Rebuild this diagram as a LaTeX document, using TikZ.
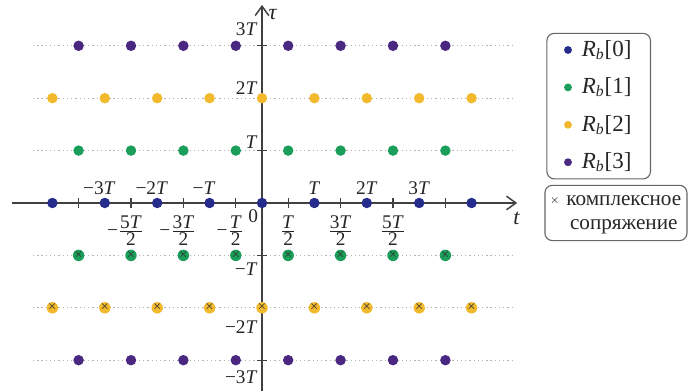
\documentclass[tikz,border=0pt]{standalone}
\usepackage{amsmath}
\usepackage{fontspec}
\setmainfont{Liberation Serif}
\usepackage{tikz}
\usetikzlibrary{arrows.meta, positioning, fit}

\definecolor{rbblue}{HTML}{262C8C}
\definecolor{rbgreen}{HTML}{1A9E5A}
\definecolor{rbyellow}{HTML}{F2B92C}
\definecolor{rbpurple}{HTML}{4A2882}

\newcommand{\TT}{\textit{T}}
\newcommand{\hfr}[2]{$\textstyle\frac{\mbox{#1}}{\mbox{#2}}$}
\newcommand{\Rb}[1]{\textit{R}$_{\mbox{\fontsize{8.5}{9}\selectfont\textit{b}}}$[#1]}

\begin{document}
\begin{tikzpicture}[
        font=\fontsize{10.5}{12}\selectfont,
        axis/.style={line width=0.8pt, draw=black!75,
            -{Straight Barb[length=1.8mm, width=2.6mm]}},
        grid/.style={gray!60, line width=0.6pt, dash pattern=on 0.7pt off 1.6pt},
        tick/.style={line width=0.6pt, draw=black!75},
        pt/.style={circle, fill=#1, inner sep=0pt, minimum size=0.2cm},
        ptx/.style={pt=#1, font=\fontsize{8}{8}\selectfont, text=black!80},
        lpt/.style={circle, fill=#1, inner sep=0pt, minimum size=0.15cm},
        lbl/.style={inner sep=0.5pt, text=black!85},
        legtxt/.style={inner sep=1pt, text=black!85, font=\fontsize{12.5}{14}\selectfont},
        legbox/.style={draw=black!60, rounded corners=4pt, line width=0.6pt},
    ]
        \useasboundingbox (-5.0,-3.588) rectangle (8.302,3.874);

        % dotted rows
        \foreach \r in {-3,-2,-1,1,2,3}
            \draw[grid] (-4.37,\r) -- (4.79,\r);

        % axes
        \coordinate (tL) at (-4.77,0);
        \coordinate (tR) at (4.87,0);
        \coordinate (uB) at (0,-3.588);
        \coordinate (uT) at (0,3.78);
        \draw[axis] (tL) -- (tR);
        \draw[axis] (uB) -- (uT);
        \node[lbl] (tlab) at (4.86,-0.29) {\fontsize{12}{12}\selectfont\textit{t}};
        \node[lbl] (ulab) at (0.21,3.6) {\fontsize{12}{12}\selectfont\textit{τ}};

        % ticks
        \foreach \k in {-3.5,-2.5,...,3.5}
            \draw[tick] (\k,-0.09) -- (\k,0.09);
        \foreach \r in {-3,-2,-1,1,2,3}
            \draw[tick] (-0.1,\r) -- (0.1,\r);

        % t-axis labels
        \foreach \k/\txt [count=\i] in {-3/\llap{−}3\TT, -2/\llap{−}2\TT, -1/\llap{−}\TT,
                1/\TT, 2/2\TT, 3/3\TT}
            \node[lbl] (ta\i) at (\k,0.29) {\txt};
        \foreach \k/\n [count=\i] in {-2.5/5, -1.5/3, -0.5/}
            \node[lbl] (tm\i) at (\k,-0.52) {\llap{−}\hfr{\n\TT}{2}};
        \foreach \k/\n [count=\i] in {0.5/, 1.5/3, 2.5/5}
            \node[lbl] (tp\i) at (\k,-0.52) {\hfr{\n\TT}{2}};
        \node[lbl] (zero) at (-0.17,-0.25) {0};

        % tau-axis labels
        \foreach \y/\txt [count=\i] in {3.31/3\TT, 2.19/2\TT, 1.17/\TT,
                -1.27/−\TT, -2.37/−2\TT, -3.32/−3\TT}
            \node[lbl, anchor=east] (ua\i) at (-0.06,\y) {\txt};

        % R_b[0]
        \foreach \k in {-4,...,4}
            \node[pt=rbblue] (b\k) at (\k,0) {};
        % R_b[1]
        \foreach \k [count=\i] in {-3.5,-2.5,...,3.5} {
            \node[pt=rbgreen] (g\i) at (\k,1) {};
            \node[ptx=rbgreen] (gx\i) at (\k,-1) {×};
        }
        % R_b[2]
        \foreach \k in {-4,...,4} {
            \node[pt=rbyellow] (y\k) at (\k,2) {};
            \node[ptx=rbyellow] (yx\k) at (\k,-2) {×};
        }
        % R_b[3]
        \foreach \k [count=\i] in {-3.5,-2.5,...,3.5} {
            \node[pt=rbpurple] (p\i) at (\k,3) {};
            \node[pt=rbpurple] (pm\i) at (\k,-3) {};
        }

        % legend
        \node[lpt=rbblue] (ld0) at (5.84,2.92) {};
        \node[legtxt, right=0.14 of ld0] (lt0) {\Rb{0}};
        \node[lpt=rbgreen, below=0.55 of ld0] (ld1) {};
        \node[legtxt, right=0.14 of ld1] (lt1) {\Rb{1}};
        \node[lpt=rbyellow, below=0.55 of ld1] (ld2) {};
        \node[legtxt, right=0.14 of ld2] (lt2) {\Rb{2}};
        \node[lpt=rbpurple, below=0.55 of ld2] (ld3) {};
        \node[legtxt, right=0.14 of ld3] (lt3) {\Rb{3}};
        \node[legbox, fit=(ld0)(lt0)(ld3)(lt3), inner xsep=0.32cm, inner ysep=0.09cm] (leg) {};

        \node[legbox, minimum width=2.71cm, minimum height=0.96cm, inner sep=2pt,
            font=\fontsize{11.5}{13}\selectfont, text=black!85] (conj) at (6.755,-0.19)
            {\begin{tabular}{@{}l@{\hspace{4pt}}c@{}}\textcolor{black!70}{\fontsize{8}{8}\selectfont ×}&комплексное\\&сопряжение\end{tabular}};
    \end{tikzpicture}
\end{document}
